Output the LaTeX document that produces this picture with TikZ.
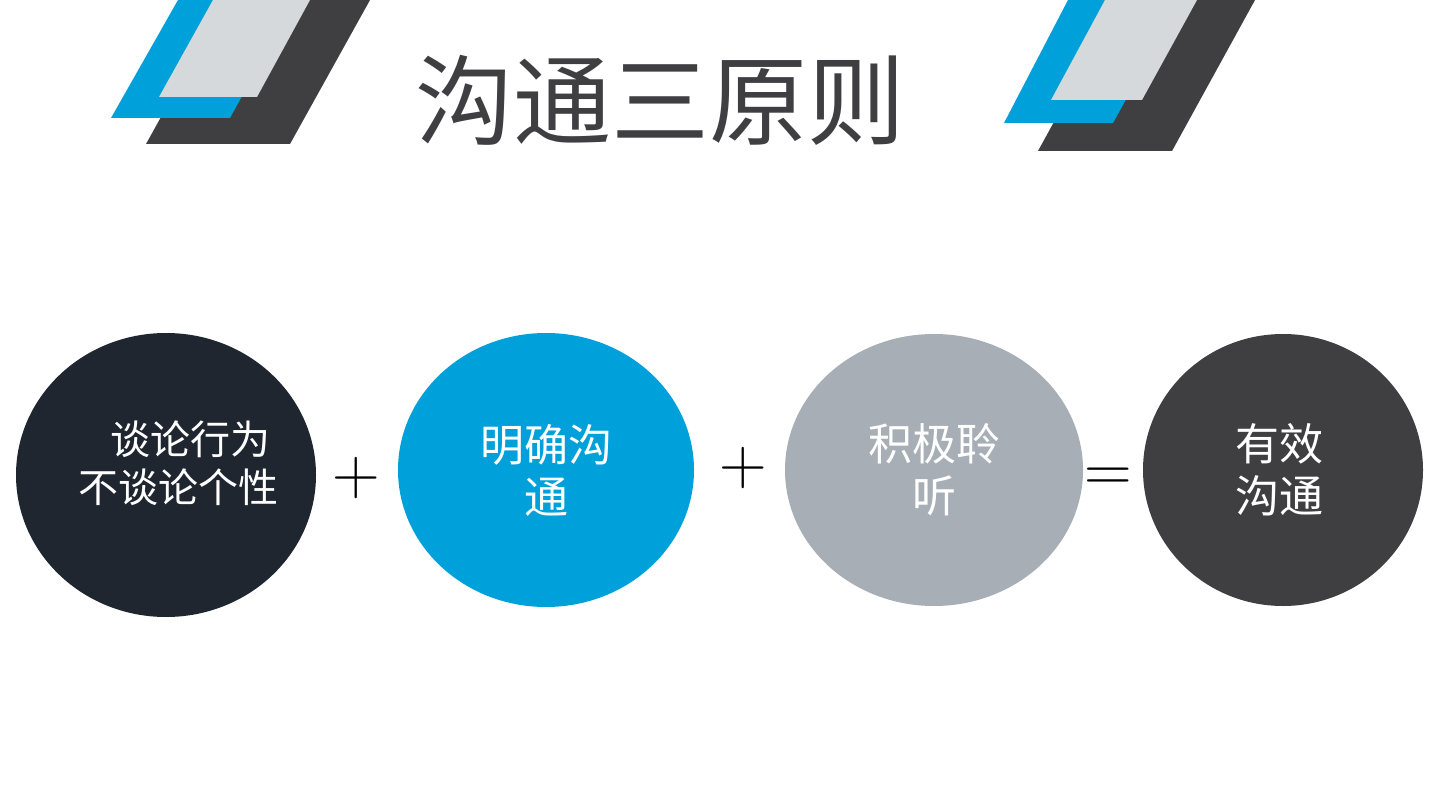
\documentclass[tikz,border=0pt]{standalone}
\usepackage{fontspec}
\newfontfamily\cjk{Noto Sans CJK SC}
\definecolor{dk}{HTML}{3F3F42}
\definecolor{bl}{HTML}{00A0DA}
\definecolor{gr}{HTML}{D5D9DC}
\definecolor{nv}{HTML}{1F2630}
\definecolor{sg}{HTML}{A7AEB5}
\begin{document}
\begin{tikzpicture}[x=1pt,y=-1pt,
  circ/.style={ellipse,minimum width=#1},
  lbl/.style={text=white,font=\cjk\fontsize{44}{52}\selectfont,align=center},
  op/.style={font=\fontsize{66}{70}\selectfont}]
\useasboundingbox (0,0) rectangle (1440,810);
\fill[white] (0,0) rectangle (1440,810);
% left deco
\fill[dk] (146,144)--(290,144)--(370,0)--(226,0)--cycle;
\fill[bl] (111,118)--(230,118)--(295,0)--(178,0)--cycle;
\fill[gr] (159,97)--(257,97)--(310,0)--(213,0)--cycle;
% right deco
\fill[dk] (1038,151)--(1172,151)--(1255,0)--(1121,0)--cycle;
\fill[bl] (1004,123)--(1113,123)--(1181,0)--(1068,0)--cycle;
\fill[gr] (1051,100)--(1142,100)--(1197,0)--(1105,0)--cycle;
\node[text=dk,font=\cjk\fontsize{98}{100}\selectfont] (title) at (660,100) {沟通三原则};
\fill[nv] (166,475) ellipse [x radius=150,y radius=142];
\fill[bl] (546,470) ellipse [x radius=148,y radius=137];
\fill[sg] (934,470) ellipse [x radius=149,y radius=136];
\fill[dk] (1283,470) ellipse [x radius=140,y radius=136];
\node[lbl,font=\cjk\fontsize{40}{48}\selectfont] (t1) at (178,463) {\hspace*{0.6em}谈论行为\\不谈论个性};
\node[lbl] (t2) at (546,470) {明确沟\\通};
\node[lbl] (t3) at (934,470) {积极聆\\听};
\node[lbl] (t4) at (1279,470) {有效\\沟通};
\node[op] (p1) at (356,478) {+};
\node[op] (p2) at (743,468) {+};
\node[op] (eq) at (1108,480) {=};
\end{tikzpicture}
\end{document}
